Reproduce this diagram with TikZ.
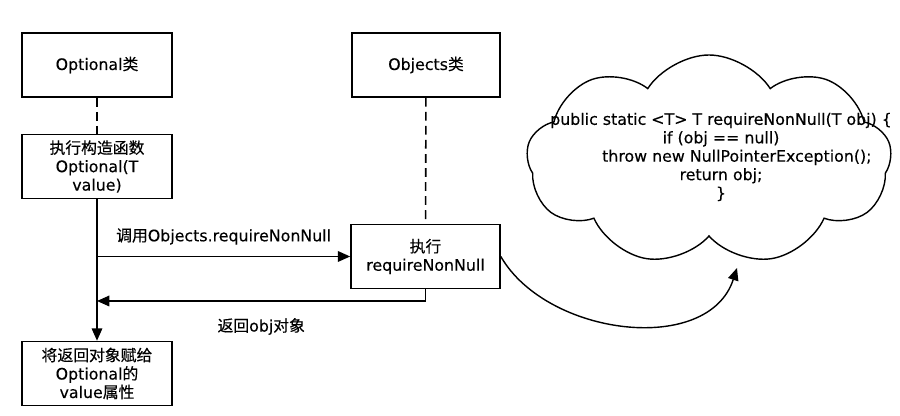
\documentclass[tikz,border=0pt]{standalone}
\usepackage{fontspec}
\setmainfont[FakeBold=0.3]{DejaVu Sans}
\newfontfamily\cjk[FakeBold=0.3]{Noto Sans CJK SC}
\newcommand{\zh}[1]{{\cjk #1}}
\usetikzlibrary{shapes.symbols,arrows.meta}
\begin{document}
\begin{tikzpicture}[
		font=\fontsize{9}{10.5}\selectfont,
		box/.style={draw, line width=0.9pt, minimum width=3cm, minimum height=1.28cm, align=center, inner sep=2pt},
		lifeline/.style={line width=0.9pt, dash pattern=on 5pt off 3pt},
		msg/.style={line width=0.9pt, -{Triangle[length=7pt,width=6pt]}}
	]
		\useasboundingbox (0,0) rectangle (18,8.32);
		
		% 左侧 Optional 的生命线
		\node[box] (opt) at (1.94,7.02) {Optional\zh{类}};
		\node[box] (ctor) at (1.94,4.99) {\zh{执行构造函数}\\Optional(T\\value)};
		\node[box] (assign) at (1.94,0.85) {\zh{将返回对象赋给}\\Optional\zh{的}\\value\zh{属性}};
		
		% 中间 Objects 的生命线
		\node[box, minimum width=2.96cm] (objs) at (8.52,7.02) {Objects\zh{类}};
		\node[box, minimum width=2.98cm] (exec) at (8.51,3.19) {\zh{执行}\\requireNonNull};
		
		% 右侧的云朵，代码单独放一个节点
		\node[cloud, draw, line width=0.8pt, cloud puffs=9, cloud puff arc=115,
			minimum width=7.3cm, minimum height=4.2cm] (cloud) at (14.18,5.12) {};
		\node[align=center, inner sep=0pt] (code) at (14.42,5.18)
			{public static <T> T requireNonNull(T obj) \{\\
			if (obj == null)\\
			\quad\quad throw new NullPointerException();\\
			return obj;\\
			\}};
		
		\draw[lifeline] (opt) -- (ctor);
		\draw[lifeline] (objs) -- (exec);
		\draw[msg] (ctor) -- (assign);
		\draw[msg] (ctor.south |- exec.west) -- (exec.west)
			node[midway, above=3pt] {\zh{调用}Objects.requireNonNull};
		
		% 返回的折线
		\coordinate (ret) at (1.94,2.30);
		\draw[msg] (exec.south) |- (ret)
			node[pos=0.75, below=6pt] {\zh{返回}obj\zh{对象}};
		
		% 指向云朵的弧线
		\coordinate (tip) at (14.74,2.96);
		\draw[msg, line width=0.8pt] (exec.east) to[out=-60, in=-108] (tip);
	\end{tikzpicture}
\end{document}
